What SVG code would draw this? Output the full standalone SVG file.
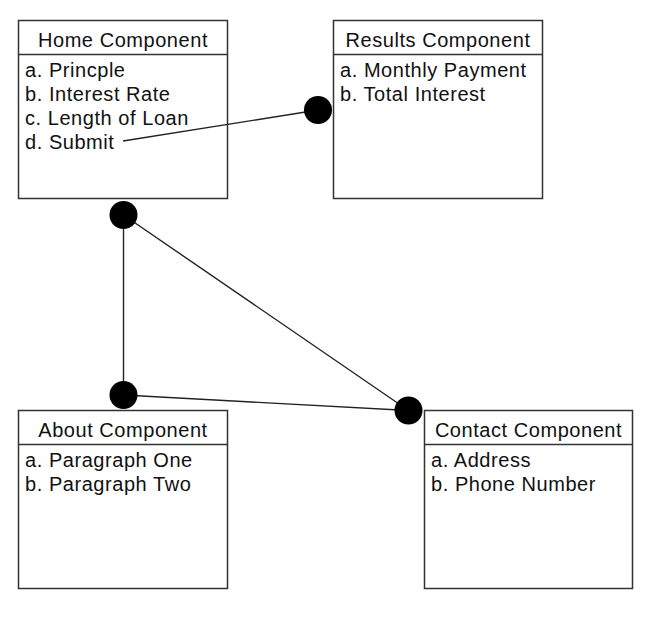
<svg xmlns="http://www.w3.org/2000/svg" width="660" height="631" viewBox="0 0 660 631">
<style>
.box{fill:#fff;stroke:#333;stroke-width:1.5}
.div{stroke:#333;stroke-width:1.5}
.hd{font-family:"Liberation Sans",Arial,sans-serif;font-size:20px;letter-spacing:0.55px;fill:#111;text-anchor:middle}
.it{font-family:"Liberation Sans",Arial,sans-serif;font-size:20px;letter-spacing:0.55px;fill:#111}
.ln{stroke:#222;stroke-width:1.4;fill:none}
.dot{fill:#000}
</style>
<rect width="660" height="631" fill="#fff"/>
<g id="home">
<rect class="box" x="18.5" y="20.5" width="209" height="178"/>
<line class="div" x1="18.5" y1="54.5" x2="227.5" y2="54.5"/>
<text class="hd" x="123" y="47">Home Component</text>
<text class="it" x="25" y="77">a. Princple</text>
<text class="it" x="25" y="101">b. Interest Rate</text>
<text class="it" x="25" y="125">c. Length of Loan</text>
<text class="it" x="25" y="149">d. Submit</text>
</g>
<g id="results">
<rect class="box" x="333.5" y="20.5" width="209" height="178"/>
<line class="div" x1="333.5" y1="54.5" x2="542.5" y2="54.5"/>
<text class="hd" x="438" y="47">Results Component</text>
<text class="it" x="340" y="77">a. Monthly Payment</text>
<text class="it" x="340" y="101">b. Total Interest</text>
</g>
<g id="about">
<rect class="box" x="18.5" y="410.5" width="209" height="178"/>
<line class="div" x1="18.5" y1="444.5" x2="227.5" y2="444.5"/>
<text class="hd" x="123" y="437">About Component</text>
<text class="it" x="25" y="467">a. Paragraph One</text>
<text class="it" x="25" y="491">b. Paragraph Two</text>
</g>
<g id="contact">
<rect class="box" x="424.5" y="410.5" width="208" height="178"/>
<line class="div" x1="424.5" y1="444.5" x2="632.5" y2="444.5"/>
<text class="hd" x="528.5" y="437">Contact Component</text>
<text class="it" x="431" y="467">a. Address</text>
<text class="it" x="431" y="491">b. Phone Number</text>
</g>
<g id="connectors">
<line class="ln" x1="123" y1="141" x2="318" y2="110"/>
<line class="ln" x1="123.5" y1="215" x2="123.5" y2="395"/>
<line class="ln" x1="123.5" y1="215" x2="408.5" y2="410.5"/>
<line class="ln" x1="123.5" y1="395" x2="408.5" y2="410.5"/>
<circle class="dot" cx="318" cy="110" r="14"/>
<circle class="dot" cx="123.5" cy="215" r="14"/>
<circle class="dot" cx="123.5" cy="395" r="14"/>
<circle class="dot" cx="408.5" cy="410.5" r="14"/>
</g>
</svg>
